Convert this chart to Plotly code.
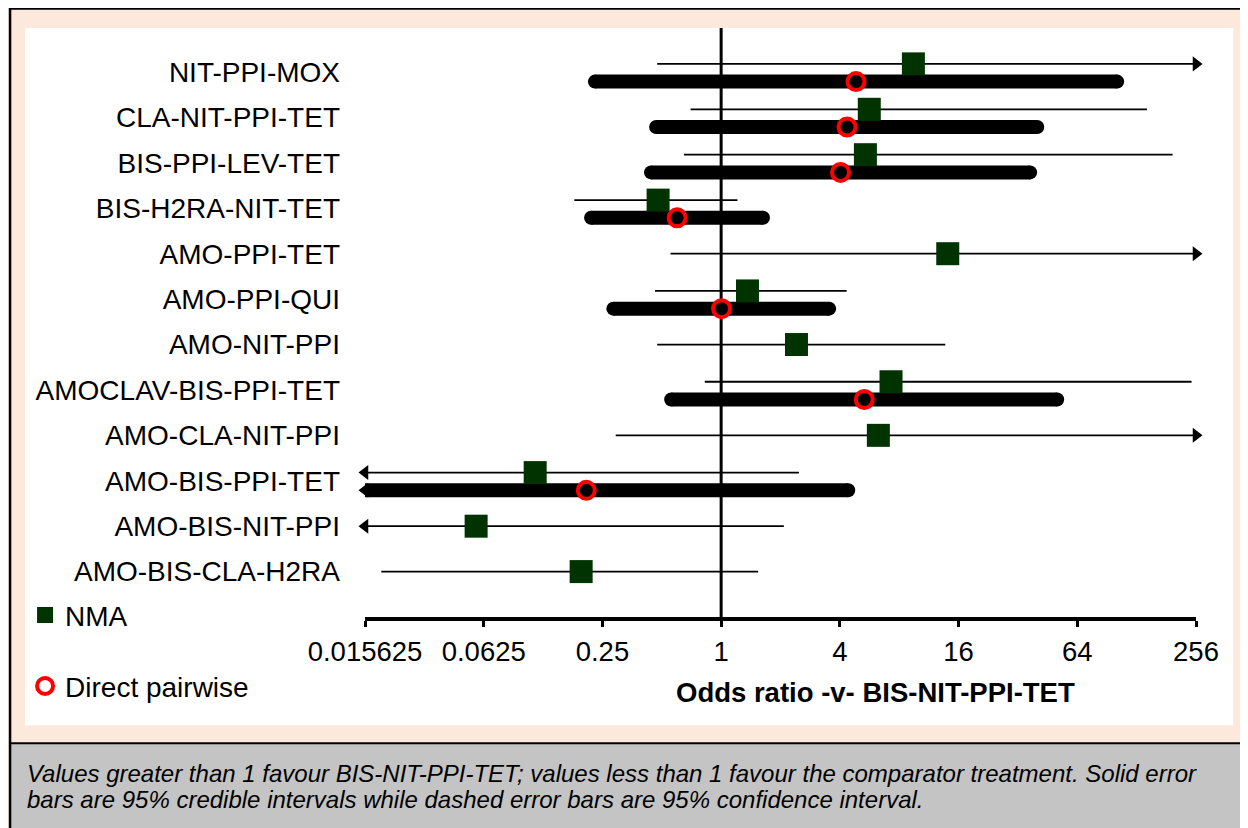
import math
import plotly.graph_objects as go

# ---------------- data ----------------
categories = ["NIT-PPI-MOX", "CLA-NIT-PPI-TET", "BIS-PPI-LEV-TET", "BIS-H2RA-NIT-TET",
              "AMO-PPI-TET", "AMO-PPI-QUI", "AMO-NIT-PPI", "AMOCLAV-BIS-PPI-TET",
              "AMO-CLA-NIT-PPI", "AMO-BIS-PPI-TET", "AMO-BIS-NIT-PPI", "AMO-BIS-CLA-H2RA"]
INF = float("inf")   # interval runs beyond the right end of the axis
# NMA estimates (odds ratio) and 95% credible intervals; 0 = beyond left end, INF = beyond right end
nma_or = [9.44, 5.64, 5.39, 0.479, 14.1, 1.36, 2.41, 7.27, 6.27, 0.114, 0.0572, 0.195]
nma_lo = [0.474, 0.70, 0.648, 0.180, 0.554, 0.462, 0.474, 0.826, 0.292, 0, 0, 0.0189]
nma_hi = [INF, 144.5, 194.8, 1.21, INF, 4.33, 13.7, 243.0, INF, 2.48, 2.08, 1.54]
# Direct pairwise estimates (None = no direct evidence)
direct_or = [4.83, 4.35, 4.03, 0.598, None, 1.005, None, 5.32, None, 0.207, None, None]
direct_lo = [0.229, 0.468, 0.441, 0.219, None, 0.284, None, 0.558, None, 0, None, None]
direct_hi = [102.0, 40.1, 36.9, 1.63, None, 3.53, None, 50.6, None, 4.41, None, None]

tick_vals = [0.015625, 0.0625, 0.25, 1, 4, 16, 64, 256]
tick_text = ["0.015625", "0.0625", "0.25", "1", "4", "16", "64", "256"]
x_title = "<b>Odds ratio -v- BIS-NIT-PPI-TET</b>"
footer_1 = "Values greater than 1 favour BIS-NIT-PPI-TET; values less than 1 favour the comparator treatment. Solid error"
footer_2 = "bars are 95% credible intervals while dashed error bars are 95% confidence interval."

# ---------------- layout geometry (page pixel coordinates) ----------------
W, H = 1248, 828
OFF = 8                  # the page body offsets the figure by 8px
XMIN, XMAX = tick_vals[0], tick_vals[-1]
L, R = 364.9, 1195.8     # plot area left/right in page px
T, B = 28.0, 616.7       # plot area top/bottom in page px
PW, PH = R - L, B - T
Y_TOP, Y_BOT = -0.97, 12.0

def px(x):
    return (x - L) / PW

def py(y):
    return (B - y) / PH

FONT = "Liberation Sans, Arial, sans-serif"
GREEN = "#003300"
OFF_NMA, OFF_DIR = -0.18, 0.21

def clip(v):
    return min(max(v, XMIN), XMAX)

fig = go.Figure()

# vertical reference line at OR = 1
fig.add_trace(go.Scatter(x=[1, 1], y=[Y_TOP, Y_BOT], mode="lines",
                         line=dict(color="black", width=3), showlegend=False, hoverinfo="skip"))

# thin NMA interval lines
tx, ty = [], []
arrows_r, arrows_l = [], []
for i in range(len(categories)):
    y = i + (OFF_NMA if direct_or[i] is not None else 0)
    tx += [clip(nma_lo[i]), clip(nma_hi[i]), None]
    ty += [y, y, None]
    if nma_hi[i] > XMAX:
        arrows_r.append(y)
    if nma_lo[i] < XMIN:
        arrows_l.append(y)
fig.add_trace(go.Scatter(x=tx, y=ty, mode="lines", line=dict(color="black", width=1.8),
                         showlegend=False, hoverinfo="skip", cliponaxis=False))

# thick direct-evidence bars
bx, by, cx, cy = [], [], [], []
for i in range(len(categories)):
    if direct_or[i] is None:
        continue
    y = i + OFF_DIR
    lo, hi = clip(direct_lo[i]), clip(direct_hi[i])
    bx += [lo, hi, None]
    by += [y, y, None]
    if direct_lo[i] >= XMIN:
        cx.append(lo); cy.append(y)
    else:
        arrows_l.append(y)
    if direct_hi[i] <= XMAX:
        cx.append(hi); cy.append(y)
    else:
        arrows_r.append(y)
fig.add_trace(go.Scatter(x=cx, y=cy, mode="markers", marker=dict(symbol="circle", size=14, color="black"),
                         showlegend=False, hoverinfo="skip"))
fig.add_trace(go.Scatter(x=bx, y=by, mode="lines", line=dict(color="black", width=14),
                         showlegend=False, hoverinfo="skip", cliponaxis=False))

# arrow heads for intervals running off the axis
fig.add_trace(go.Scatter(x=[XMAX] * len(arrows_r), y=arrows_r, mode="markers",
                         marker=dict(symbol="triangle-right", size=13, color="black"),
                         showlegend=False, hoverinfo="skip", cliponaxis=False))
fig.add_trace(go.Scatter(x=[XMIN] * len(arrows_l), y=arrows_l, mode="markers",
                         marker=dict(symbol="triangle-left", size=13, color="black"),
                         showlegend=False, hoverinfo="skip", cliponaxis=False))

# NMA point estimates
fig.add_trace(go.Scatter(x=nma_or,
                         y=[i + (OFF_NMA if direct_or[i] is not None else 0) for i in range(len(categories))],
                         mode="markers", name="NMA",
                         marker=dict(symbol="square", size=23, color=GREEN, line=dict(width=0)),
                         legend="legend", hoverinfo="skip"))
# Direct pairwise estimates
d_idx = [i for i in range(len(categories)) if direct_or[i] is not None]
fig.add_trace(go.Scatter(x=[direct_or[i] for i in d_idx], y=[i + OFF_DIR for i in d_idx],
                         mode="markers", name="Direct pairwise",
                         marker=dict(symbol="circle-open", size=17, color="#ff0000", line=dict(width=4, color="#ff0000")),
                         legend="legend2", hoverinfo="skip"))

# ---------------- background boxes ----------------
shapes = [
    dict(type="rect", xref="paper", yref="paper", x0=px(0), x1=px(W + OFF), y0=py(H + OFF), y1=py(7),
         fillcolor="#fce9dc", line=dict(width=0), layer="below"),
    dict(type="rect", xref="paper", yref="paper", x0=px(10), x1=px(W + OFF), y0=py(H + OFF), y1=py(743),
         fillcolor="#c4c4c4", line=dict(width=0), layer="below"),
    dict(type="rect", xref="paper", yref="paper", x0=px(25), x1=px(1233), y0=py(725), y1=py(28),
         fillcolor="white", line=dict(width=0), layer="below"),
    dict(type="line", xref="paper", yref="paper", x0=px(10), x1=px(W + OFF), y0=py(8.5), y1=py(8.5),
         line=dict(color="black", width=2.5), layer="below"),
    dict(type="line", xref="paper", yref="paper", x0=px(10), x1=px(10), y0=py(7), y1=py(H + OFF),
         line=dict(color="black", width=2.5), layer="below"),
    dict(type="line", xref="paper", yref="paper", x0=px(10), x1=px(W + OFF), y0=py(743), y1=py(743),
         line=dict(color="black", width=2), layer="below"),
]

annotations = [
    dict(text=x_title, xref="paper", yref="paper", x=px(875), y=py(692), xanchor="center", yanchor="middle",
         showarrow=False, font=dict(family=FONT, size=27.5, color="black")),
    dict(text="<i>" + footer_1 + "</i>", xref="paper", yref="paper", x=px(25), y=py(773),
         xanchor="left", yanchor="middle", showarrow=False, font=dict(family=FONT, size=24, color="black")),
    dict(text="<i>" + footer_2 + "</i>", xref="paper", yref="paper", x=px(25), y=py(799),
         xanchor="left", yanchor="middle", showarrow=False, font=dict(family=FONT, size=24, color="black")),
]

fig.update_layout(
    width=W, height=H,
    margin=dict(l=L - OFF, r=W - (R - OFF), t=T - OFF, b=H - (B - OFF), pad=0),
    paper_bgcolor="white", plot_bgcolor="rgba(0,0,0,0)",
    font=dict(family=FONT, size=28, color="black"),
    xaxis=dict(type="log", range=[math.log10(XMIN), math.log10(XMAX)],
               tickvals=tick_vals, ticktext=tick_text, ticks="outside", ticklen=6, tickwidth=3,
               tickcolor="black", showline=True, linewidth=3.5, linecolor="black",
               showgrid=False, zeroline=False, tickfont=dict(size=27.5), ticklabelstandoff=1),
    yaxis=dict(range=[Y_BOT, Y_TOP], tickvals=list(range(len(categories))), ticktext=categories,
               ticks="", showline=False, showgrid=False, zeroline=False,
               tickfont=dict(size=28), ticklabelstandoff=24),
    legend=dict(x=px(25), y=py(615), xanchor="left", yanchor="middle", bgcolor="rgba(0,0,0,0)",
                font=dict(size=28), itemsizing="trace"),
    legend2=dict(x=px(25), y=py(686), xanchor="left", yanchor="middle", bgcolor="rgba(0,0,0,0)",
                 font=dict(size=28), itemsizing="trace"),
    shapes=shapes, annotations=annotations,
)

fig.write_html("out.html")
